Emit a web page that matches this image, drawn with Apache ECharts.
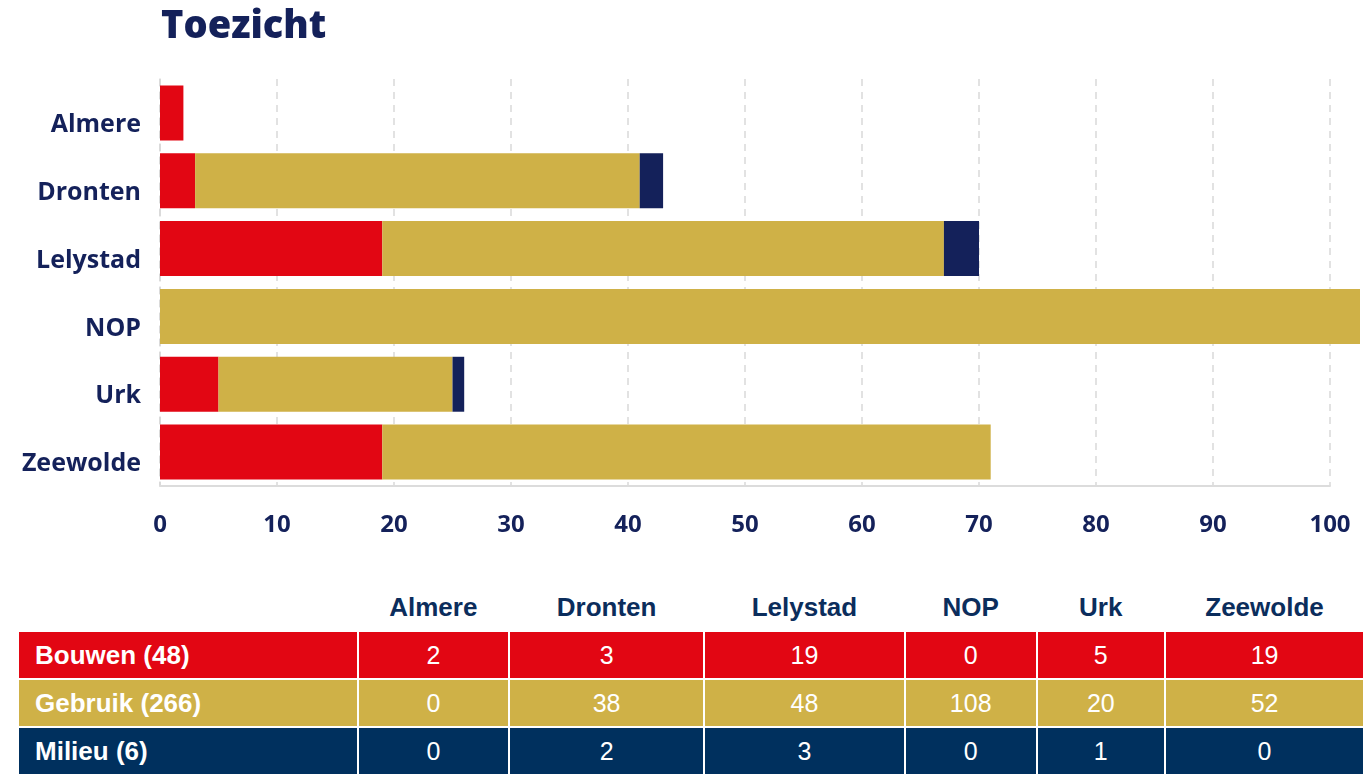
<!DOCTYPE html>
<html>
<head>
    <meta charset="utf-8">
    <title>Toezicht</title>
    <script src="https://cdn.jsdelivr.net/npm/echarts@6/dist/echarts.min.js"></script>
    <style>
        body{
            margin:0;
            width:1369px;
            height:777px;
            overflow:hidden;
            background:#fff;
        }
        #chart{
            position:absolute;
            left:0;
            top:0;
            width:1360px;
            height:560px;
        }
        #tabel{
            position:absolute;
            left:17px;
            top:584px;
            width:1348px;
            border-collapse:collapse;
            font-family:"Liberation Sans Narrow","Liberation Sans",Arial,sans-serif;
            font-size:25px;
        }
        #tabel th{
            color:#0b2d5c;
            font-weight:bold;
            font-size:26px;
            height:46px;
            padding:0;
            text-align:center;
        }
        #tabel td{
            color:#fff;
            height:46px;
            padding:0;
            text-align:center;
            border:2px solid #fff;
        }
        #tabel td.naam{
            text-align:left;
            padding-left:16px;
            font-weight:bold;
            font-size:26px;
        }
    </style>
</head>
<body>
<div id="chart"></div>
<table id="tabel"></table>
<script>
    // gemeenten
    var gemeenten = ['Almere', 'Dronten', 'Lelystad', 'NOP', 'Urk', 'Zeewolde'];
    // toezicht per soort
    var bouwen  = [2, 3, 19, 0, 5, 19];
    var gebruik = [0, 38, 48, 108, 20, 52];
    var milieu  = [0, 2, 3, 0, 1, 0];
    var xTicks  = [0, 10, 20, 30, 40, 50, 60, 70, 80, 90, 100];

    var rood = '#e20613', goud = '#cfb147', blauw = '#14215a', tabelBlauw = '#00305e';
    var donker = '#14215a';

    function som(arr){ var s=0; for(var i=0;i<arr.length;i++){ s+=arr[i]; } return s; }

    var reeksen = [
        {name:'Bouwen', data:bouwen, kleur:rood, rij:rood},
        {name:'Gebruik', data:gebruik, kleur:goud, rij:goud},
        {name:'Milieu', data:milieu, kleur:blauw, rij:tabelBlauw}
    ];

    var myChart = echarts.init(document.getElementById('chart'));
    myChart.setOption({
        animation:false,
        title:{
            text:'Toezicht',
            left:156,
            top:3,
            textStyle:{fontFamily:'Open Sans', fontWeight:800, fontSize:38, color:donker}
        },
        grid:{left:160, right:30, top:79, bottom:74, containLabel:false},
        xAxis:{
            type:'value',
            min:xTicks[0],
            max:xTicks[xTicks.length-1],
            interval:10,
            axisLine:{show:true, lineStyle:{color:'#dcdcdc', width:2}},
            axisTick:{show:false},
            axisLabel:{margin:27, fontFamily:'Open Sans', fontWeight:'bold', fontSize:24, color:donker},
            splitLine:{show:true, lineStyle:{type:[7,6], color:'#d9d9d9', width:1.5}}
        },
        yAxis:{
            type:'category',
            inverse:true,
            data:gemeenten,
            axisLine:{show:true, lineStyle:{type:[7,6], color:'#d9d9d9', width:1.5}},
            axisTick:{show:false},
            axisLabel:{margin:19, verticalAlign:'top', lineHeight:24, fontFamily:'Open Sans', fontWeight:'bold', fontSize:25, color:donker}
        },
        series:reeksen.map(function(r){
            return {
                name:r.name,
                type:'bar',
                stack:'totaal',
                clip:false,
                barCategoryGap:'19%',
                itemStyle:{color:r.kleur},
                data:r.data
            };
        })
    });

    // tabel onder de grafiek
    var html = '<tr><th style="width:338px"></th>';
    var breedtes = [151, 194, 200, 131, 128, 198];
    for(var i=0;i<gemeenten.length;i++){
        html += '<th style="width:'+breedtes[i]+'px">'+gemeenten[i]+'</th>';
    }
    html += '</tr>';
    reeksen.forEach(function(r){
        html += '<tr style="background:'+r.rij+'"><td class="naam">'+r.name+' ('+som(r.data)+')</td>';
        for(var j=0;j<r.data.length;j++){
            html += '<td>'+r.data[j]+'</td>';
        }
        html += '</tr>';
    });
    document.getElementById('tabel').innerHTML = html;
</script>
</body>
</html>
